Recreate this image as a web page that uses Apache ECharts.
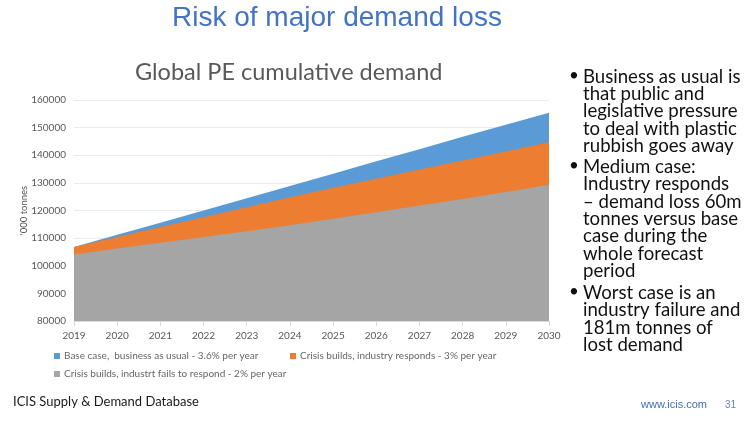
<!DOCTYPE html>
<html>
<head>
<meta charset="utf-8">
<script src="https://cdn.jsdelivr.net/npm/echarts@6/dist/echarts.min.js"></script>
<style>
html,body{margin:0;padding:0;background:#fff;}
#c{width:750px;height:421px;}
</style>
</head>
<body>
<div id="c"></div>
<script>
// ---- data ----
var years = ['2019','2020','2021','2022','2023','2024','2025','2026','2027','2028','2029','2030'];
var baseCase = [106800,111200,115600,120000,124400,128900,133300,137800,142200,146700,151000,155400];
var respondCase = [106800,110400,114000,117600,121200,124800,128200,131500,134800,138100,141400,144700];
var failCase = [104100,106200,108300,110400,112500,114700,117000,119400,121800,124200,126700,129300];
var seriesNames = [
  'Base case,  business as usual - 3.6% per year',
  'Crisis builds, industry responds - 3% per year',
  'Crisis builds, industrt fails to respond - 2% per year'
];
var yTicks = { min: 80000, max: 160000, interval: 10000 };
var bullets = [
  ['Business as usual is', 'that public and', 'legislative pressure', 'to deal with plastic', 'rubbish goes away'],
  ['Medium case:', 'Industry responds', '\u2013 demand loss 60m', 'tonnes versus base', 'case during the', 'whole forecast', 'period'],
  ['Worst case is an', 'industry failure and', '181m tonnes of', 'lost demand']
];

var colors = ['#5B9BD5', '#ED7D31', '#A5A5A5'];
var sans = 'Lato, "Open Sans", sans-serif';

var chart = echarts.init(document.getElementById('c'));

var graphics = [
  { type: 'text', x: 172, y: 4, style: { text: 'Risk of major demand loss', font: '28px "Liberation Sans", Arial, sans-serif', fill: '#4472C4' } },
  { type: 'text', x: 135, y: 60, style: { text: 'Global PE cumulative demand', font: '23.5px ' + sans, fill: '#595959' } },
  { type: 'text', x: 13, y: 395, style: { text: 'ICIS Supply & Demand Database', font: '13px ' + sans, fill: '#1a1a1a' } },
  { type: 'text', x: 641, y: 399, style: { text: 'www.icis.com', font: '11px "Liberation Sans", Arial, sans-serif', fill: '#3F6EBA' } },
  { type: 'text', x: 725, y: 400, style: { text: '31', font: '10px "Liberation Sans", Arial, sans-serif', fill: '#6A86B0' } }
];
var bulletTops = [68, 158.5, 284.5];
var lineH = 17.3;
bullets.forEach(function (lines, i) {
  graphics.push({ type: 'text', x: 569, y: bulletTops[i] - 1, style: { text: '\u2022', font: '17px ' + sans, fill: '#111' } });
  graphics.push({ type: 'text', x: 583, y: bulletTops[i], style: { text: lines.join('\n'), font: '18.6px ' + sans, lineHeight: lineH, fill: '#111' } });
});

function legendAt(name, left, top) {
  return {
    data: [name], left: left, top: top, icon: 'rect', itemWidth: 6, itemHeight: 6, itemGap: 4,
    textStyle: { fontSize: 10, color: '#666666', fontFamily: sans, padding: [0, 0, 0, -1] },
    padding: 0
  };
}

chart.setOption({
  animation: false,
  color: colors,
  legend: [
    legendAt(seriesNames[0], 54, 351),
    legendAt(seriesNames[1], 290, 351),
    legendAt(seriesNames[2], 54, 369)
  ],
  grid: { left: 74, right: 201, top: 100, bottom: 100 },
  xAxis: {
    type: 'category', data: years, boundaryGap: false,
    axisLine: { lineStyle: { color: '#D9D9D9' } },
    axisTick: { show: true, length: 5, lineStyle: { color: '#D9D9D9' } },
    axisLabel: { color: '#595959', fontSize: 10, fontFamily: sans, margin: 10 },
    splitLine: { show: false }
  },
  yAxis: {
    type: 'value', min: yTicks.min, max: yTicks.max, interval: yTicks.interval,
    name: "'000 tonnes", nameLocation: 'middle', nameRotate: 90, nameGap: 45, nameMoveOverlap: false,
    nameTextStyle: { color: '#595959', fontSize: 9.5, fontFamily: sans },
    axisLine: { show: false }, axisTick: { show: false },
    axisLabel: { color: '#595959', fontSize: 10, fontFamily: sans, margin: 8, formatter: function (v) { return String(v); } },
    splitLine: { lineStyle: { color: '#EBEBEB' } }
  },
  series: [
    { name: seriesNames[0], type: 'line', data: baseCase, showSymbol: false, lineStyle: { width: 0 }, areaStyle: { color: colors[0], opacity: 1, origin: 'start' } },
    { name: seriesNames[1], type: 'line', data: respondCase, showSymbol: false, lineStyle: { width: 0 }, areaStyle: { color: colors[1], opacity: 1, origin: 'start' } },
    { name: seriesNames[2], type: 'line', data: failCase, showSymbol: false, lineStyle: { width: 0 }, areaStyle: { color: colors[2], opacity: 1, origin: 'start' } }
  ],
  graphic: graphics
});
</script>
</body>
</html>
